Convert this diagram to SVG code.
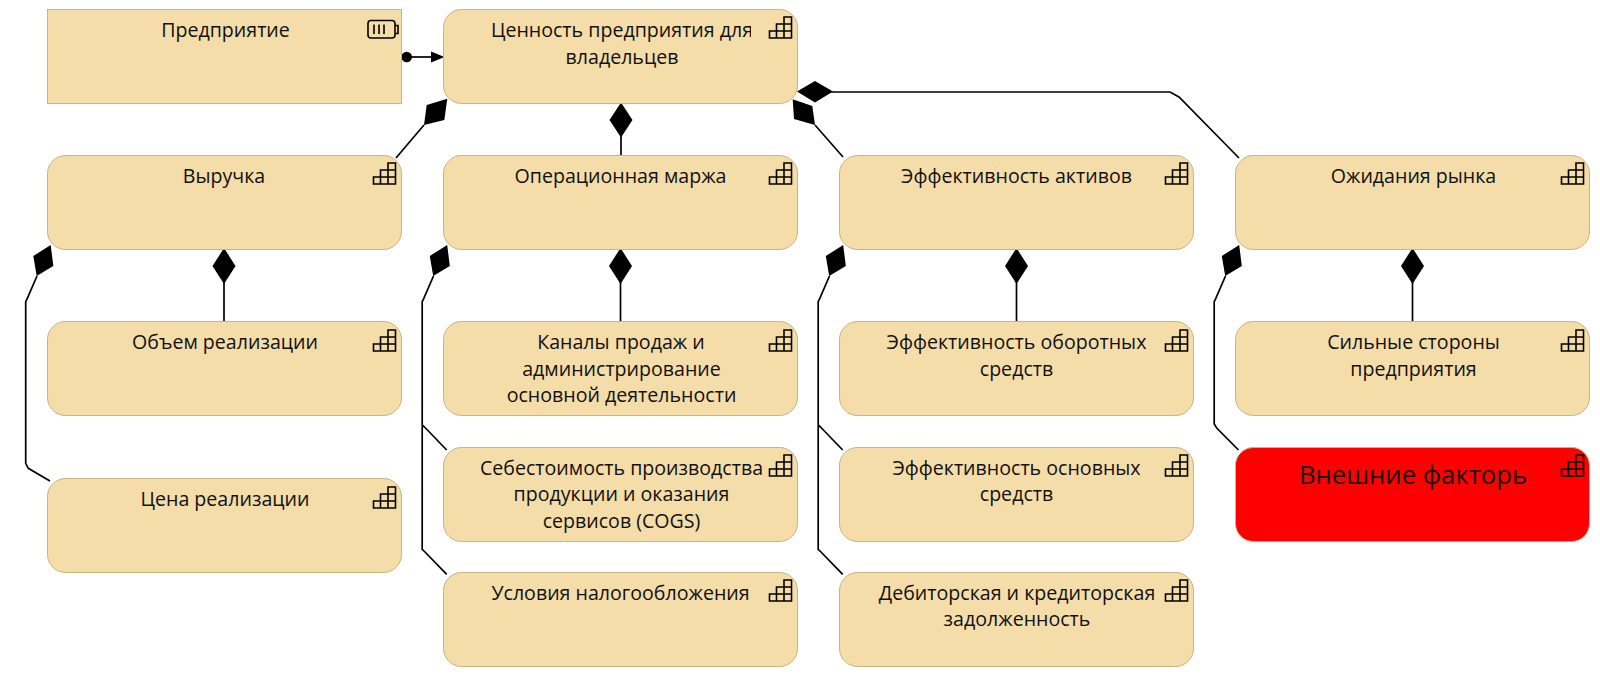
<svg xmlns="http://www.w3.org/2000/svg" width="1600" height="676" viewBox="0 0 1600 676">
<style>
.n{fill:#f5dda9;stroke:#c9b484;stroke-width:1}
.t{font-family:"Open Sans","Noto Sans","Liberation Sans",sans-serif;font-size:19.6px;fill:#111;text-anchor:middle}
.big{font-size:25.7px}
.c{fill:none;stroke:#000;stroke-width:1.7}
.d{fill:#000;stroke:none}
.i{fill:none;stroke:#000;stroke-width:1.6}
</style>
<defs>
<g id="cap" class="i"><path d="M14.500 0H22V21H0V14H7V7H14.500ZM7 14H22M14.500 7H22M7 14V21M14.500 7V21"/></g>
<clipPath id="clip2"><rect x="444" y="10" width="307" height="92"/></clipPath>
</defs>
<rect width="1600" height="676" fill="#fff"/>
<g id="connectors">
<path class="c" d="M407 57H433"/><circle class="d" cx="406.700" cy="57" r="5.300"/><path class="d" d="M444.500 57L431 51.500V62.500Z"/>
<path class="c" d="M396 158L424 125"/><path class="d" d="M447.300 98.700L426.700 105L424 125L444.300 120Z"/>
<path class="c" d="M621 155V130"/><path class="d" d="M621 102.500L609.500 120L621 137.500L632.500 120Z"/>
<path class="c" d="M843 157L815 125"/><path class="d" d="M792.700 99.300L812.300 106L815 125L794 119Z"/>
<path class="c" d="M825 92H1170L1179 97L1239 158"/><path class="d" d="M797 91.500L815 81L833 91.500L815 102.500Z"/>
<path class="c" d="M224 322V280"/><path class="d" d="M224 248L212.500 266L224 284L235.500 266Z"/>
<path class="c" d="M620.500 322V280"/><path class="d" d="M620.500 248L609 266L620.500 284L632 266Z"/>
<path class="c" d="M1016.500 322V280"/><path class="d" d="M1016.500 248L1005 266L1016.500 284L1028 266Z"/>
<path class="c" d="M1412.500 322V280"/><path class="d" d="M1412.500 248L1401 266L1412.500 284L1424 266Z"/>
<path class="c" d="M37 276L27.300 298.300L25.700 301.700V463.300L28.300 468.300L50 481"/><path class="d" d="M50.700 245L33.300 256L36.700 276L53.300 266Z"/>
<path class="c" d="M433.500 276L423.800 298.300L422.200 301.700V549.300L425 552L446.700 574.300M422.200 425L424.500 427L446.700 450"/><path class="d" d="M447.200 245L429.800 256L433.200 276L449.800 266Z"/>
<path class="c" d="M829.500 276L819.800 298.300L818.200 301.700V549.300L821 552L842.700 574.300M818.200 425L820.500 427L842.700 450"/><path class="d" d="M843.200 245L825.800 256L829.200 276L845.800 266Z"/>
<path class="c" d="M1225.500 276L1215.800 298.300L1214.200 301.700V424L1216.700 428L1238.500 450"/><path class="d" d="M1239.200 245L1221.800 256L1225.200 276L1241.800 266Z"/>
</g>
<g id="n1"><rect class="n" x="47.500" y="9.500" width="354" height="94"/><text class="t" x="225.500" y="37">Предприятие</text>
<g class="i"><rect x="368" y="20.500" width="27" height="17.500" rx="3"/><path d="M395 25.500h3v8h-3M374 24.500v9.500M379 24.500v9.500M384 24.500v9.500"/></g></g>
<g id="n2"><rect class="n" x="443.500" y="9.500" width="354" height="94" rx="18"/><text class="t" x="622" y="37" clip-path="url(#clip2)">Ценность предприятия для</text><text class="t" x="622" y="63.500">владельцев</text><use href="#cap" x="769.500" y="17"/></g>
<g id="n3"><rect class="n" x="47.500" y="155.500" width="354" height="94" rx="18"/><text class="t" x="224" y="183">Выручка</text><use href="#cap" x="373.500" y="163"/></g>
<g id="n4"><rect class="n" x="443.500" y="155.500" width="354" height="94" rx="18"/><text class="t" x="620.500" y="183">Операционная маржа</text><use href="#cap" x="769.500" y="163"/></g>
<g id="n5"><rect class="n" x="839.500" y="155.500" width="354" height="94" rx="18"/><text class="t" x="1016.500" y="183">Эффективность активов</text><use href="#cap" x="1165.500" y="163"/></g>
<g id="n6"><rect class="n" x="1235.500" y="155.500" width="354" height="94" rx="18"/><text class="t" x="1413.500" y="183">Ожидания рынка</text><use href="#cap" x="1561.500" y="163"/></g>
<g id="n7"><rect class="n" x="47.500" y="321.500" width="354" height="94" rx="18"/><text class="t" x="225" y="349">Объем реализации</text><use href="#cap" x="373.500" y="330"/></g>
<g id="n8"><rect class="n" x="443.500" y="321.500" width="354" height="94" rx="18"/><text class="t" x="621" y="349">Каналы продаж и</text><text class="t" x="621.500" y="375.500">администрирование</text><text class="t" x="621.500" y="402">основной деятельности</text><use href="#cap" x="769.500" y="330"/></g>
<g id="n9"><rect class="n" x="839.500" y="321.500" width="354" height="94" rx="18"/><text class="t" x="1016.500" y="349">Эффективность оборотных</text><text class="t" x="1016.500" y="375.500">средств</text><use href="#cap" x="1165.500" y="330"/></g>
<g id="n10"><rect class="n" x="1235.500" y="321.500" width="354" height="94" rx="18"/><text class="t" x="1413.500" y="349">Сильные стороны</text><text class="t" x="1413.500" y="375.500">предприятия</text><use href="#cap" x="1561.500" y="330"/></g>
<g id="n11"><rect class="n" x="47.500" y="478.500" width="354" height="94" rx="18"/><text class="t" x="225" y="506">Цена реализации</text><use href="#cap" x="373.500" y="487"/></g>
<g id="n12"><rect class="n" x="443.500" y="447.500" width="354" height="94" rx="18"/><text class="t" x="621.500" y="474.500">Себестоимость производства</text><text class="t" x="621.500" y="501">продукции и оказания</text><text class="t" x="621.500" y="527.500">сервисов (COGS)</text><use href="#cap" x="769.500" y="455"/></g>
<g id="n13"><rect class="n" x="839.500" y="447.500" width="354" height="94" rx="18"/><text class="t" x="1016.500" y="474.500">Эффективность основных</text><text class="t" x="1016.500" y="501">средств</text><use href="#cap" x="1165.500" y="455"/></g>
<g id="n14"><rect x="1235.500" y="447.500" width="354" height="94" rx="18" fill="#f00" stroke="#c9b484"/><text class="t big" x="1413" y="484">Внешние факторь</text><use href="#cap" x="1561.500" y="455"/></g>
<g id="n15"><rect class="n" x="443.500" y="572.500" width="354" height="94" rx="18"/><text class="t" x="620.500" y="599.500">Условия налогообложения</text><use href="#cap" x="769.500" y="580"/></g>
<g id="n16"><rect class="n" x="839.500" y="572.500" width="354" height="94" rx="18"/><text class="t" x="1017" y="599.500">Дебиторская и кредиторская</text><text class="t" x="1017" y="626">задолженность</text><use href="#cap" x="1165.500" y="580"/></g>
</svg>
